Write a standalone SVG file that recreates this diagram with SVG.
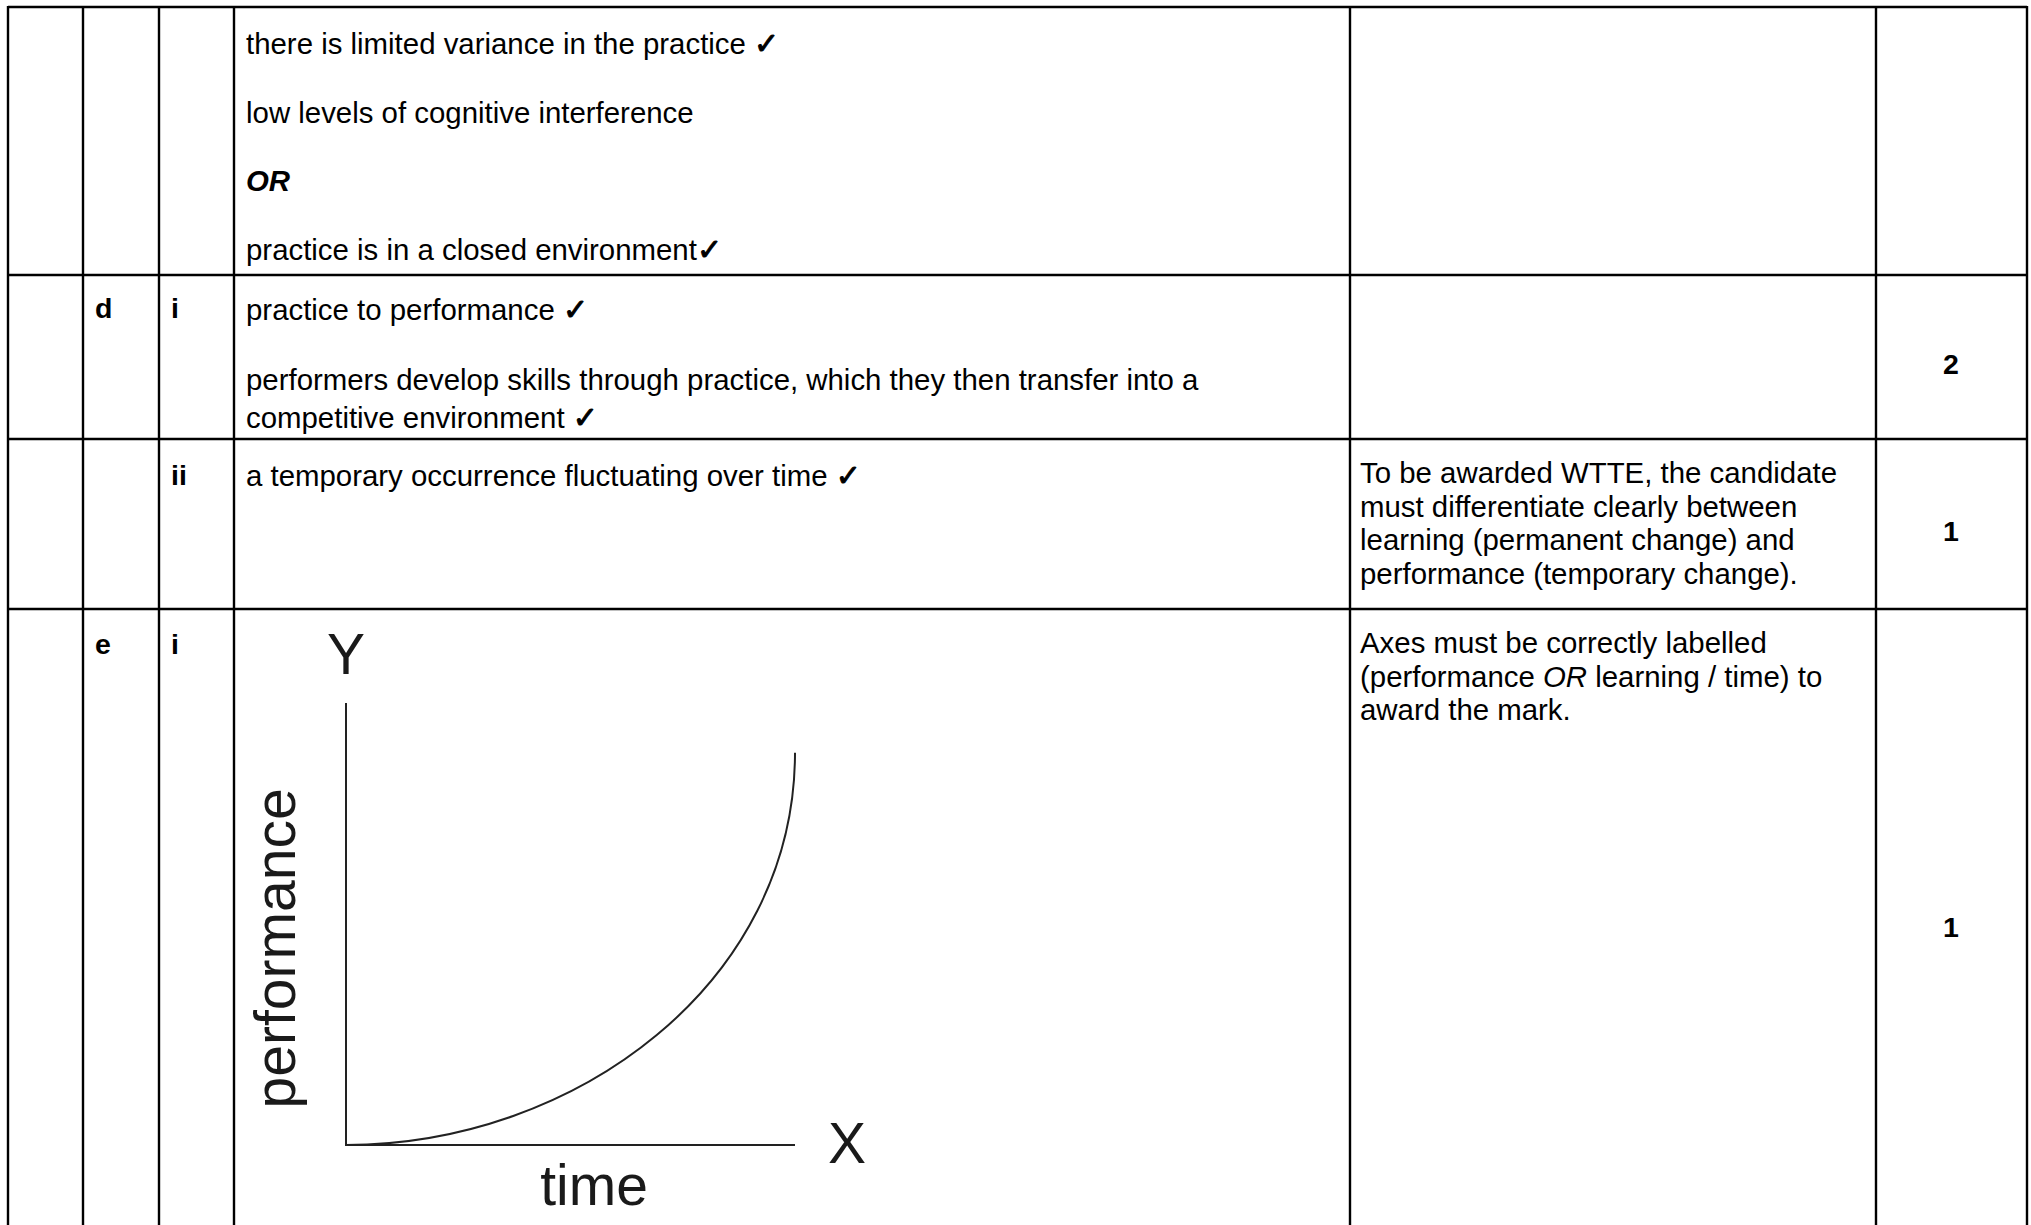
<svg xmlns="http://www.w3.org/2000/svg" width="2031" height="1225" viewBox="0 0 2031 1225">
<style>
.t{font-family:"Liberation Sans",Arial,"DejaVu Sans",sans-serif;font-size:29.4px;fill:#000}
.k{font-family:"DejaVu Sans",sans-serif;font-size:30px;stroke:#000;stroke-width:1}
.b{font-family:"Liberation Sans",Arial,sans-serif;font-size:28.5px;font-weight:bold;fill:#000}
.m{font-family:"Liberation Sans",Arial,sans-serif;font-size:28.5px;font-weight:bold;fill:#000;text-anchor:middle}
.g{stroke:#000;stroke-width:2.4;fill:none}
.c{font-family:"Liberation Sans",Arial,sans-serif;font-size:57px;fill:#1a1a1a}
.ax{stroke:#222;stroke-width:2;fill:none}
</style>
<rect x="0" y="0" width="2031" height="1225" fill="#fff"/>
<g id="grid">
<line class="g" x1="8" y1="7" x2="2027" y2="7"/>
<line class="g" x1="8" y1="275" x2="2027" y2="275"/>
<line class="g" x1="8" y1="439" x2="2027" y2="439"/>
<line class="g" x1="8" y1="609" x2="2027" y2="609"/>
<line class="g" x1="8" y1="6" x2="8" y2="1225"/>
<line class="g" x1="83" y1="6" x2="83" y2="1225"/>
<line class="g" x1="159" y1="6" x2="159" y2="1225"/>
<line class="g" x1="234" y1="6" x2="234" y2="1225"/>
<line class="g" x1="1350" y1="6" x2="1350" y2="1225"/>
<line class="g" x1="1876" y1="6" x2="1876" y2="1225"/>
<line class="g" x1="2027" y1="6" x2="2027" y2="1225"/>
</g>
<g id="row-c">
<text class="t" x="246" y="54">there is limited variance in the practice <tspan class="k">✓</tspan></text>
<text class="t" x="246" y="123">low levels of cognitive interference</text>
<text class="t" x="246" y="191" font-weight="bold" font-style="italic">OR</text>
<text class="t" x="246" y="260">practice is in a closed environment<tspan class="k">✓</tspan></text>
</g>
<g id="row-d-i">
<text class="b" x="95" y="318">d</text>
<text class="b" x="171" y="318">i</text>
<text class="t" x="246" y="320">practice to performance <tspan class="k">✓</tspan></text>
<text class="t" x="246" y="390">performers develop skills through practice, which they then transfer into a</text>
<text class="t" x="246" y="427.5">competitive environment <tspan class="k">✓</tspan></text>
<text class="m" x="1951" y="374">2</text>
</g>
<g id="row-d-ii">
<text class="b" x="171" y="485">ii</text>
<text class="t" x="246" y="486">a temporary occurrence fluctuating over time <tspan class="k">✓</tspan></text>
<text class="t" x="1360" y="483">To be awarded WTTE, the candidate</text>
<text class="t" x="1360" y="516.5">must differentiate clearly between</text>
<text class="t" x="1360" y="550">learning (permanent change) and</text>
<text class="t" x="1360" y="583.5">performance (temporary change).</text>
<text class="m" x="1951" y="541">1</text>
</g>
<g id="row-e-i">
<text class="b" x="95" y="654">e</text>
<text class="b" x="171" y="654">i</text>
<text class="t" x="1360" y="653">Axes must be correctly labelled</text>
<text class="t" x="1360" y="686.5">(performance <tspan font-style="italic">OR</tspan> learning / time) to</text>
<text class="t" x="1360" y="720">award the mark.</text>
<text class="m" x="1951" y="937">1</text>
</g>
<g id="chart">
<line class="ax" x1="346" y1="703" x2="346" y2="1145"/>
<line class="ax" x1="345" y1="1145" x2="795" y2="1145"/>
<path class="ax" d="M346,1145 C576,1145 795,982.7 795,752.7"/>
<text class="c" x="346" y="674" text-anchor="middle">Y</text>
<text class="c" x="847" y="1163" text-anchor="middle">X</text>
<text class="c" x="594" y="1205" text-anchor="middle" font-size="56">time</text>
<text class="c" x="0" y="0" text-anchor="middle" font-size="56" transform="translate(295,948.4) rotate(-90)">performance</text>
</g>
</svg>
